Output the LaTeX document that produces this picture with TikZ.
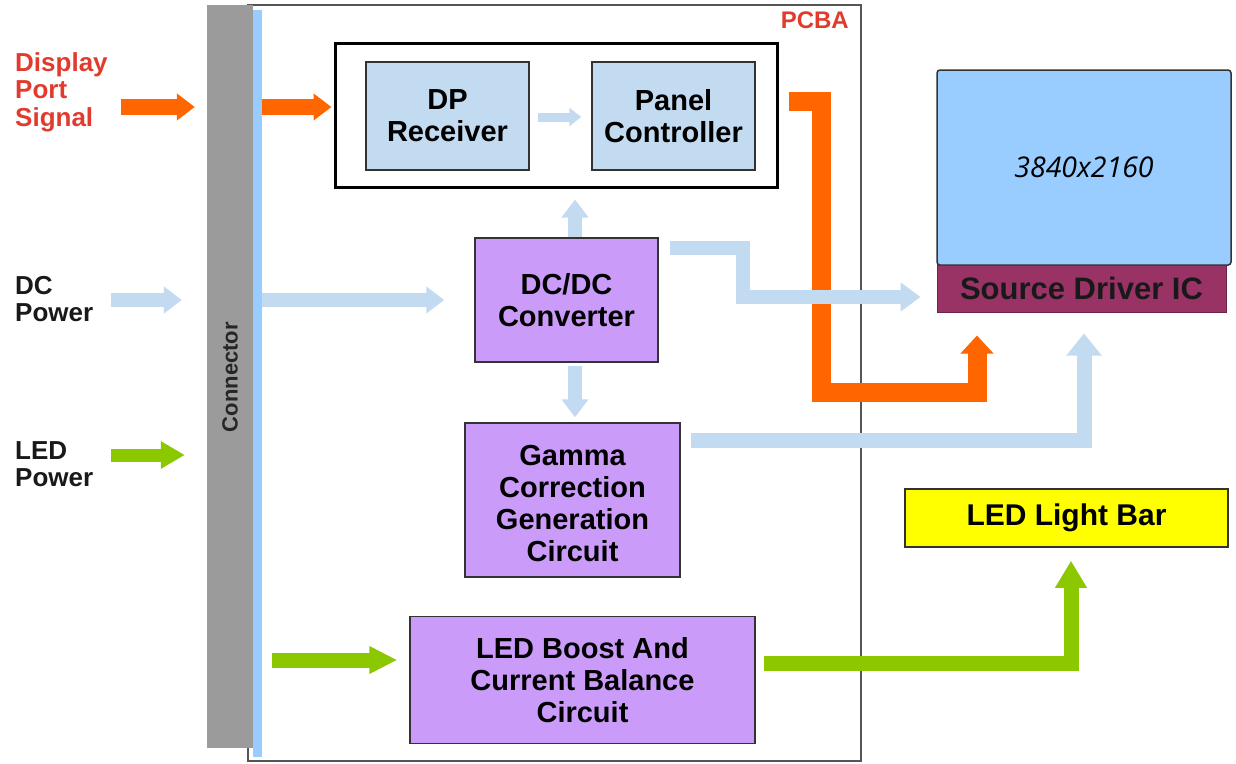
\documentclass[tikz,border=0pt]{standalone}
\usepackage{fontspec}
\setmainfont{Liberation Sans}
\newfontfamily\dispfont{Open Sans}
\usetikzlibrary{arrows.meta,calc}
\definecolor{orng}{HTML}{FF6600}
\definecolor{redtxt}{HTML}{E23B2E}
\definecolor{grn}{HTML}{8CC800}
\definecolor{lblue}{HTML}{C3DBF0}
\definecolor{conngray}{HTML}{9B9B9B}
\definecolor{stripblue}{HTML}{99CCFF}
\definecolor{paleblue}{HTML}{C2DBF0}
\definecolor{lav}{HTML}{CB9BF9}
\definecolor{dispblue}{HTML}{99CCFF}
\definecolor{maroon}{HTML}{993366}
\definecolor{yel}{HTML}{FFFF00}
\definecolor{edge}{HTML}{333333}
\definecolor{frame}{HTML}{555555}
\begin{document}
\begin{tikzpicture}[x=1pt,y=-1pt,
  lbl/.style={font=\bfseries\fontsize{29}{32}\selectfont, align=center, text=black, inner sep=0pt},
  sidelbl/.style={font=\bfseries\fontsize{26}{27.5}\selectfont, align=left, inner sep=0pt, anchor=west},
  bluebox/.style={lbl, draw=edge, line width=1.5pt, fill=paleblue},
  lavbox/.style={lbl, draw=edge, line width=1.5pt, fill=lav},
  oarr/.style={draw=orng, line width=16pt, line join=miter, -{Triangle[length=18pt,width=26pt]}},
  obig/.style={draw=orng, line width=19pt, line join=miter, -{Triangle[length=18pt,width=32pt]}},
  barr/.style={draw=lblue, line width=14pt, line join=miter, -{Triangle[length=18pt,width=26pt]}},
  barrs/.style={draw=lblue, line width=9pt, -{Triangle[length=12pt,width=18pt]}},
  garr/.style={draw=grn, line width=13pt, line join=miter, -{Triangle[length=24pt,width=26pt]}},
  gbig/.style={draw=grn, line width=15pt, line join=miter, -{Triangle[length=27pt,width=30pt]}},
]
\useasboundingbox (0,0) rectangle (1236,763);
\fill[white] (0,0) rectangle (1236,763);

% PCBA frame and connector
\node[draw=frame, line width=1.5pt, minimum width=613pt, minimum height=756pt, inner sep=0pt] (pcba) at (554.5,383) {};
\node[anchor=north east, text=redtxt, font=\bfseries\fontsize{24}{26}\selectfont, inner sep=0pt] (pcbalbl) at (849,12) {PCBA};
\node[fill=conngray, minimum width=46pt, minimum height=743pt, inner sep=0pt] (conn) at (230,376.5) {};
\node[fill=stripblue, minimum width=9pt, minimum height=747pt, inner sep=0pt] (strip) at (257.5,383.5) {};
\node[rotate=90, font=\bfseries\fontsize{22}{24}\selectfont, text=black!85, inner sep=0pt] (connlbl) at (230,377) {Connector};

% left labels
\node[sidelbl, text=redtxt] (dps) at (15,92) {Display\\Port\\Signal};
\node[sidelbl, text=black!90] (dcl) at (15,299) {DC\\Power};
\node[sidelbl, text=black!90] (ledl) at (15,464) {LED\\Power};

% boxes
\node[draw=black, line width=3pt, minimum width=442pt, minimum height=144pt, inner sep=0pt] (top) at (556,115) {};
\node[bluebox, minimum width=163pt, minimum height=108pt] (dp) at (447.5,116) {DP\\Receiver};
\node[bluebox, minimum width=163pt, minimum height=108pt] (panel) at (673.5,116) {Panel\\Controller};
\node[lavbox, minimum width=183pt, minimum height=124pt] (dcdc) at (566.5,300) {DC/DC\\Converter};
\node[lavbox, minimum width=215pt, minimum height=154pt, text depth=0pt] (gamma) at (572.5,500) {\rule{0pt}{27pt}Gamma\\Correction\\Generation\\Circuit};
\node[lavbox, minimum width=345pt, minimum height=127pt] (boost) at (582.5,680) {LED Boost And\\Current Balance\\Circuit};
\node[draw=edge, line width=1.5pt, fill=dispblue, rounded corners=3pt, minimum width=294pt, minimum height=195pt, inner sep=0pt, font=\dispfont\itshape\fontsize{28.5}{30}\selectfont] (disp) at (1084,167.5) {3840x2160};
\node[lbl, fill=maroon, draw=maroon!70!black, line width=1pt, minimum width=289pt, minimum height=47pt, font=\bfseries\fontsize{31}{33}\selectfont, text=black!90] (src) at (1081.5,288.5) {Source Driver IC};
\node[lbl, fill=yel, draw=edge, line width=1.5pt, minimum width=323pt, minimum height=58pt, font=\bfseries\fontsize{30}{32}\selectfont] (bar) at (1066.5,518) {LED Light Bar};

% orange arrows
\draw[oarr] ($(dps.east)+(13,15)$) -- ($(conn.west |- dps.east)+(-12,15)$);
\draw[oarr] ($(strip.east |- top.west)+(0,-8)$) -- ($(top.west)+(-2,-8)$);
\draw[obig] ($(top.east)+(10,-14)$) -- ++(33,0) |- ($(src.south)+(-104.5,80)$) -- ($(src.south)+(-104.5,23)$);

% light blue arrows
\draw[barr] ($(dcl.east)+(18,1)$) -- ($(conn.west |- dcl.east)+(-25,1)$);
\draw[barr] ($(strip.east |- dcdc.west)$) -- ($(dcdc.west)+(-30,0)$);
\draw[barrs] ($(dp.east)+(8,1)$) -- ($(panel.west)+(-10,1)$);
\draw[barr] ($(dcdc.north)+(8.5,0)$) -- ($(top.south -| dcdc.north)+(8.5,11)$);
\draw[barr] ($(dcdc.south)+(8.5,3)$) -- ($(gamma.north -| dcdc.south)+(8.5,-5)$);
\draw[barr, -{Triangle[length=20pt,width=28pt]}] ($(dcdc.east)+(11,-52)$) -- ++(73,0) |- ($(src.west)+(-16,8.5)$);
\draw[barr, line width=15pt, -{Triangle[length=22pt,width=34pt]}] ($(gamma.east)+(10,-60)$) -| ($(src.south)+(2.5,21)$);

% green arrows
\draw[garr] ($(ledl.east)+(18,-9)$) -- ($(conn.west |- ledl.east)+(-22,-9)$);
\draw[gbig, -{Triangle[length=28pt,width=26pt]}] ($(strip.east |- boost.west)+(10,-20)$) -- ($(boost.west)+(-12,-20)$);
\draw[gbig] ($(boost.east)+(8,-17)$) -| ($(bar.south)+(4.5,13)$);
\end{tikzpicture}
\end{document}
